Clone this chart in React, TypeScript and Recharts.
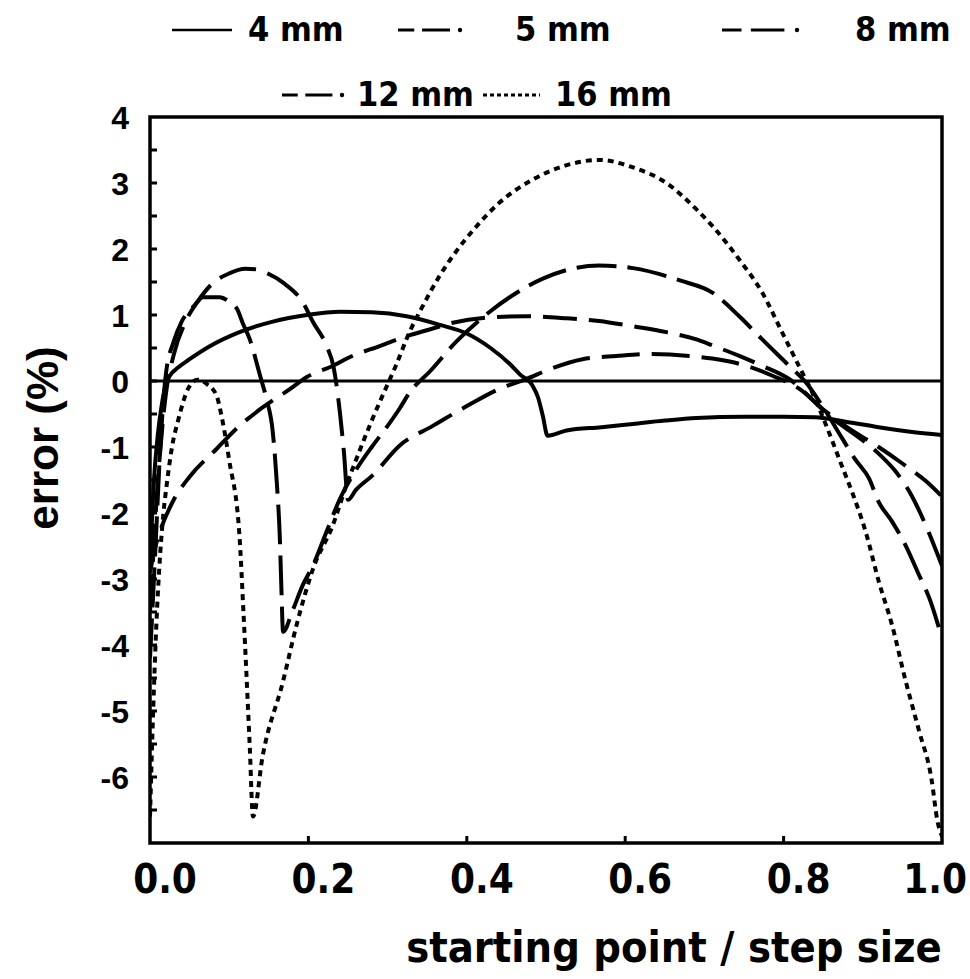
import React from "react";
import { LineChart, Line, XAxis, YAxis, ReferenceLine, ReferenceArea, Legend } from "recharts";

// error (%) vs starting point / step size, one curve per step size
const mm4: [number, number][] = [
  [0, -2.8], [0.005, -1.5], [0.01, -0.8], [0.015, -0.35], [0.02, -0.05], [0.025, 0.08],
  [0.035, 0.2], [0.05, 0.33], [0.076, 0.53], [0.113, 0.74], [0.155, 0.9], [0.198, 1.0],
  [0.24, 1.05], [0.28, 1.04], [0.324, 0.98], [0.366, 0.85], [0.4, 0.72], [0.43, 0.5],
  [0.455, 0.25], [0.467, 0.1], [0.483, -0.07], [0.49, -0.25], [0.496, -0.53], [0.502, -0.83],
  [0.526, -0.75], [0.57, -0.7], [0.61, -0.65], [0.65, -0.6], [0.69, -0.56], [0.75, -0.54],
  [0.8, -0.54], [0.84, -0.55], [0.88, -0.62], [0.92, -0.7], [0.96, -0.77], [1.0, -0.82],
];

const mm5: [number, number][] = [
  [0, -2.9], [0.007, -2.5], [0.015, -2.2], [0.03, -1.8], [0.05, -1.45], [0.084, -1.03],
  [0.113, -0.68], [0.14, -0.42], [0.177, -0.12], [0.198, 0.06], [0.231, 0.23], [0.252, 0.36],
  [0.29, 0.53], [0.324, 0.68], [0.353, 0.78], [0.378, 0.87], [0.425, 0.96], [0.475, 0.98],
  [0.526, 0.95], [0.567, 0.91], [0.609, 0.83], [0.652, 0.74], [0.69, 0.63], [0.71, 0.54],
  [0.744, 0.38], [0.773, 0.23], [0.807, 0.03], [0.849, -0.42], [0.88, -0.7], [0.92, -1.0],
  [0.95, -1.25], [0.98, -1.52], [1.0, -1.75],
];

const mm8: [number, number][] = [
  [0, -3.5], [0.01, -1.5], [0.02, -0.2], [0.03, 0.4], [0.045, 0.9], [0.06, 1.2],
  [0.08, 1.49], [0.1, 1.63], [0.12, 1.7], [0.135, 1.69], [0.15, 1.62], [0.168, 1.49],
  [0.193, 1.19], [0.206, 0.89], [0.223, 0.53], [0.232, 0.2], [0.24, -0.5], [0.245, -1.1],
  [0.25, -1.8], [0.26, -1.65], [0.281, -1.43], [0.315, -0.98], [0.357, -0.68], [0.4, -0.38],
  [0.441, -0.12], [0.475, 0.03], [0.505, 0.18], [0.546, 0.33], [0.589, 0.38], [0.63, 0.41],
  [0.681, 0.38], [0.71, 0.34], [0.753, 0.23], [0.786, 0.08], [0.82, -0.12], [0.86, -0.55],
  [0.9, -0.9], [0.92, -1.1], [0.94, -1.35], [0.96, -1.7], [0.98, -2.2], [1.0, -2.8],
];

const mm12: [number, number][] = [
  [0, -4.2], [0.007, -2.5], [0.013, -1.0], [0.02, 0.1], [0.03, 0.6], [0.04, 0.9],
  [0.055, 1.13], [0.067, 1.27], [0.088, 1.27], [0.1, 1.2], [0.11, 1.09], [0.117, 0.88],
  [0.126, 0.63], [0.139, 0.08], [0.147, -0.27], [0.155, -0.77], [0.16, -1.52], [0.164, -2.4],
  [0.166, -3.18], [0.168, -3.8], [0.18, -3.48], [0.193, -3.09], [0.206, -2.79], [0.223, -2.28],
  [0.24, -1.78], [0.26, -1.35], [0.28, -1.0], [0.3, -0.68], [0.315, -0.42], [0.328, -0.17],
  [0.353, 0.14], [0.387, 0.6], [0.412, 0.88], [0.429, 1.05], [0.462, 1.33], [0.496, 1.55],
  [0.526, 1.68], [0.567, 1.75], [0.61, 1.71], [0.67, 1.52], [0.71, 1.34], [0.744, 0.98],
  [0.773, 0.63], [0.807, 0.23], [0.828, -0.02], [0.85, -0.4], [0.874, -0.87], [0.89, -1.18],
  [0.908, -1.48], [0.92, -1.83], [0.937, -2.13], [0.954, -2.49], [0.971, -2.94], [0.984, -3.29],
  [1.0, -3.9],
];

const mm16: [number, number][] = [
  [0, -6.6], [0.004, -5.0], [0.008, -3.7], [0.013, -2.6], [0.017, -2.0], [0.021, -1.58],
  [0.029, -0.92], [0.035, -0.62], [0.048, -0.12], [0.06, 0.02], [0.072, -0.05], [0.084, -0.22],
  [0.091, -0.57], [0.1, -1.2], [0.113, -2.35], [0.118, -3.5], [0.122, -4.5], [0.126, -5.55],
  [0.13, -6.6], [0.142, -5.7], [0.168, -4.55], [0.185, -3.7], [0.206, -2.84], [0.231, -2.18],
  [0.248, -1.58], [0.26, -1.2], [0.28, -0.6], [0.3, -0.05], [0.31, 0.22], [0.328, 0.75],
  [0.345, 1.15], [0.366, 1.6], [0.387, 1.97], [0.412, 2.34], [0.441, 2.7], [0.483, 3.05],
  [0.526, 3.27], [0.567, 3.35], [0.609, 3.24], [0.652, 3.0], [0.69, 2.6], [0.71, 2.35],
  [0.744, 1.84], [0.773, 1.34], [0.798, 0.74], [0.823, 0.14], [0.836, -0.17], [0.853, -0.65],
  [0.874, -1.3], [0.887, -1.7], [0.904, -2.3], [0.92, -3.03], [0.937, -3.7], [0.954, -4.54],
  [0.971, -5.3], [0.987, -6.05], [0.994, -6.65], [1.0, -6.9],
];

const xTicks = [0, 0.2, 0.4, 0.6, 0.8, 1.0];
const yTicks = [-7, -6.5, -6, -5.5, -5, -4.5, -4, -3.5, -3, -2.5, -2, -1.5, -1, -0.5, 0, 0.5, 1, 1.5, 2, 2.5, 3, 3.5, 4];

const boldFont = '"Liberation Sans", Arial, sans-serif';
const narrowFont = '"DejaVu Sans Condensed", "DejaVu Sans", sans-serif';

const series = [
  { name: "4 mm", data: mm4, dash: undefined as string | undefined },
  { name: "5 mm", data: mm5, dash: "34 12" },
  { name: "8 mm", data: mm8, dash: "38 12" },
  { name: "12 mm", data: mm12, dash: "40 11" },
  { name: "16 mm", data: mm16, dash: "6 5" },
];

const toPoints = (d: [number, number][]) => d.map(([x, y]) => ({ x, y }));

const YTick = (props: any) => {
  const { x, y, payload } = props;
  const v = payload.value as number;
  const edge = v === -7 || v === 4;
  return (
    <g>
      {!edge && <line x1={x} x2={x + 7} y1={y} y2={y} stroke="#000" strokeWidth={3} />}
      {Number.isInteger(v) && v > -7 && (
        <text x={x - 21} y={y} dy="0.36em" textAnchor="end" fontFamily={boldFont} fontWeight={700} fontSize={32} fill="#000">
          {v}
        </text>
      )}
    </g>
  );
};

const XTick = (props: any) => {
  const { x, y, payload } = props;
  const v = payload.value as number;
  const edge = v === 0 || v === 1;
  const last = v === 1;
  return (
    <g>
      {!edge && <line x1={x} x2={x} y1={y} y2={y - 7} stroke="#000" strokeWidth={3} />}
      <text
        x={last ? x + 25 : x + 15}
        y={y + 50}
        textAnchor={last ? "end" : "middle"}
        fontFamily={narrowFont}
        fontWeight={700}
        fontSize={40}
        fill="#000"
      >
        {v.toFixed(1)}
      </text>
    </g>
  );
};

const Swatch = ({ dash, width }: { dash?: string; width: number }) => {
  if (dash === "6 5" || dash === undefined) {
    return (
      <svg width={width} height={10} style={{ display: "block" }}>
        <line x1={0} x2={width} y1={5} y2={5} stroke="#000" strokeWidth={dash ? 3 : 2.5} strokeDasharray={dash ? "4 3" : undefined} />
      </svg>
    );
  }
  return (
    <svg width={width} height={10} style={{ display: "block" }}>
      <line x1={0} x2={width * 0.25} y1={5} y2={5} stroke="#000" strokeWidth={3} />
      <line x1={width * 0.37} x2={width * 0.8} y1={5} y2={5} stroke="#000" strokeWidth={3} />
      <circle cx={width - 3} cy={5} r={2.2} fill="#000" />
    </svg>
  );
};

// legend placement: [swatch left, swatch width, text left, row top]
const legendPlace: Record<string, [number, number, number, number]> = {
  "4 mm": [172, 60, 248, 15],
  "5 mm": [398, 65, 515, 15],
  "8 mm": [722, 78, 855, 15],
  "12 mm": [282, 63, 357, 80],
  "16 mm": [483, 57, 555, 80],
};

const renderLegend = () => (
  <div style={{ position: "relative", width: 970, height: 110 }}>
    {series.map((s) => {
      const [sl, sw, tl, top] = legendPlace[s.name];
      return (
        <React.Fragment key={s.name}>
          <div style={{ position: "absolute", left: sl, top: top + 10 }}>
            <Swatch dash={s.dash} width={sw} />
          </div>
          <div
            style={{
              position: "absolute",
              left: tl,
              top: top - 6,
              fontFamily: narrowFont,
              fontWeight: 700,
              fontSize: 34,
              lineHeight: "40px",
              whiteSpace: "nowrap",
            }}
          >
            {s.name}
          </div>
        </React.Fragment>
      );
    })}
  </div>
);

export default function App() {
  return (
    <div style={{ position: "absolute", left: 0, top: 0, width: 970, height: 979, background: "#fff", overflow: "hidden" }}>
      <LineChart width={970} height={979} margin={{ top: 117, right: 28, bottom: 135, left: 149 }} style={{ overflow: "visible" }}>
        <XAxis
          type="number"
          dataKey="x"
          domain={[0, 1]}
          ticks={xTicks}
          height={1}
          axisLine={false}
          tickLine={false}
          tickSize={0}
          tickMargin={0}
          tick={<XTick />}
          interval={0}
          allowDataOverflow
        />
        <YAxis
          type="number"
          domain={[-7, 4]}
          ticks={yTicks}
          width={1}
          axisLine={false}
          tickLine={false}
          tickSize={0}
          tickMargin={0}
          tick={<YTick />}
          interval={0}
          allowDataOverflow
        />
        <Legend
          content={renderLegend}
          verticalAlign="middle"
          layout="horizontal"
          wrapperStyle={{ position: "absolute", left: 0, top: 0, width: 970, height: 110 }}
        />
        <ReferenceArea x1={0} x2={1} y1={-7} y2={4} fill="none" stroke="#000" strokeWidth={3.5} fillOpacity={0} />
        <ReferenceLine y={0} stroke="#000" strokeWidth={3} />
        {series.map((s) => (
          <Line
            key={s.name}
            data={toPoints(s.data)}
            dataKey="y"
            name={s.name}
            type="monotone"
            stroke="#000"
            strokeWidth={4}
            strokeDasharray={s.dash}
            dot={false}
            isAnimationActive={false}
          />
        ))}
      </LineChart>
      <div
        style={{
          position: "absolute",
          left: 43,
          top: 438,
          transform: "translate(-50%, -50%) rotate(-90deg)",
          fontFamily: boldFont,
          fontWeight: 700,
          fontSize: 44,
          whiteSpace: "nowrap",
        }}
      >
        error (%)
      </div>
      <div
        style={{
          position: "absolute",
          left: 674,
          top: 947,
          transform: "translate(-50%, -50%)",
          fontFamily: narrowFont,
          fontWeight: 700,
          fontSize: 43,
          whiteSpace: "nowrap",
        }}
      >
        starting point / step size
      </div>
    </div>
  );
}
